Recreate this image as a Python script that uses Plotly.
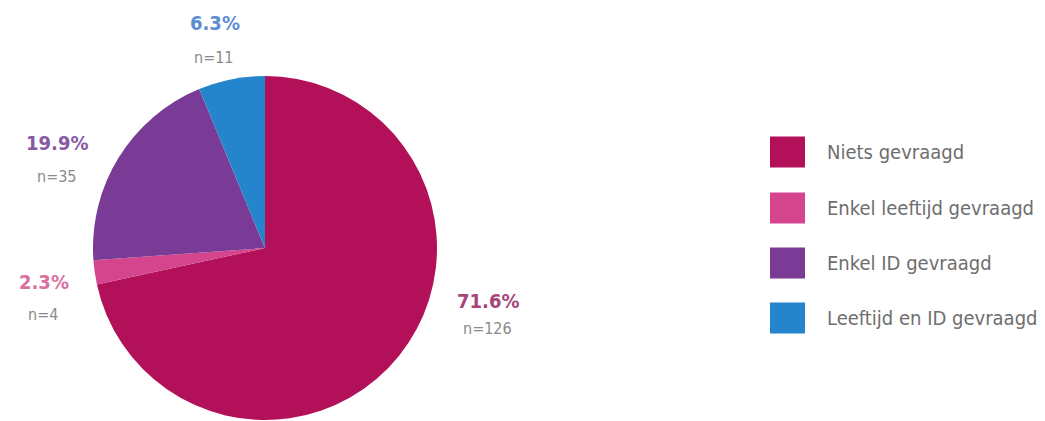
import plotly.graph_objects as go

categories = ["Niets gevraagd", "Enkel leeftijd gevraagd", "Enkel ID gevraagd", "Leeftijd en ID gevraagd"]
counts = [126, 4, 35, 11]
percentages = [71.6, 2.3, 19.9, 6.3]

slice_colors = ["#B3105A", "#D5458D", "#7A3B97", "#2585CC"]
label_colors = ["#A6457A", "#D9709F", "#8759A6", "#5B8ED3"]

W, H = 1045, 421
FONT = "DejaVu Sans Condensed, Liberation Sans Narrow, Arial Narrow, sans-serif"

fig = go.Figure(go.Pie(
    labels=categories,
    values=counts,
    sort=False,
    direction="clockwise",
    rotation=0,
    marker=dict(colors=slice_colors, line=dict(width=0)),
    textinfo="none",
    hoverinfo="label+percent",
    showlegend=False,
    domain=dict(x=[93 / W, 437 / W], y=[1 / H, 345 / H]),
))

# label positions (pixel coords: percent centre, n centre)
label_pos = [((488, 301), (487, 328)),
             ((44, 282), (43, 314)),
             ((57, 143), (57, 176)),
             ((215, 23), (214, 57))]
annotations = []
for ((px, py), (nx, ny)), pct, n, col in zip(label_pos, percentages, counts, label_colors):
    annotations.append(dict(
        x=px / W, y=1 - py / H, xref="paper", yref="paper",
        text=f"<b>{pct:.1f}%</b>", showarrow=False,
        font=dict(family=FONT, size=20, color=col),
        xanchor="center", yanchor="middle",
    ))
    annotations.append(dict(
        x=nx / W, y=1 - ny / H, xref="paper", yref="paper",
        text=f"n={n}", showarrow=False,
        font=dict(family=FONT, size=16, color="#8A8A8A"),
        xanchor="center", yanchor="middle",
    ))

# custom legend
shapes = []
legend_rows = [152, 208, 263, 318]
for cat, col, ry in zip(categories, slice_colors, legend_rows):
    shapes.append(dict(
        type="rect", xref="paper", yref="paper",
        x0=770 / W, x1=805 / W, y0=1 - (ry + 15.5) / H, y1=1 - (ry - 15.5) / H,
        fillcolor=col, line=dict(width=0),
    ))
    annotations.append(dict(
        x=825 / W, y=1 - ry / H, xref="paper", yref="paper",
        text=cat, showarrow=False,
        font=dict(family=FONT, size=20, color="#6E6E6E"),
        xanchor="left", yanchor="middle",
    ))

fig.update_layout(
    width=W, height=H,
    margin=dict(l=0, r=0, t=0, b=0),
    paper_bgcolor="white",
    plot_bgcolor="white",
    annotations=annotations,
    shapes=shapes,
)

fig.write_html("out.html", config={"displayModeBar": False},
               post_script="document.body.style.margin='0px';")
